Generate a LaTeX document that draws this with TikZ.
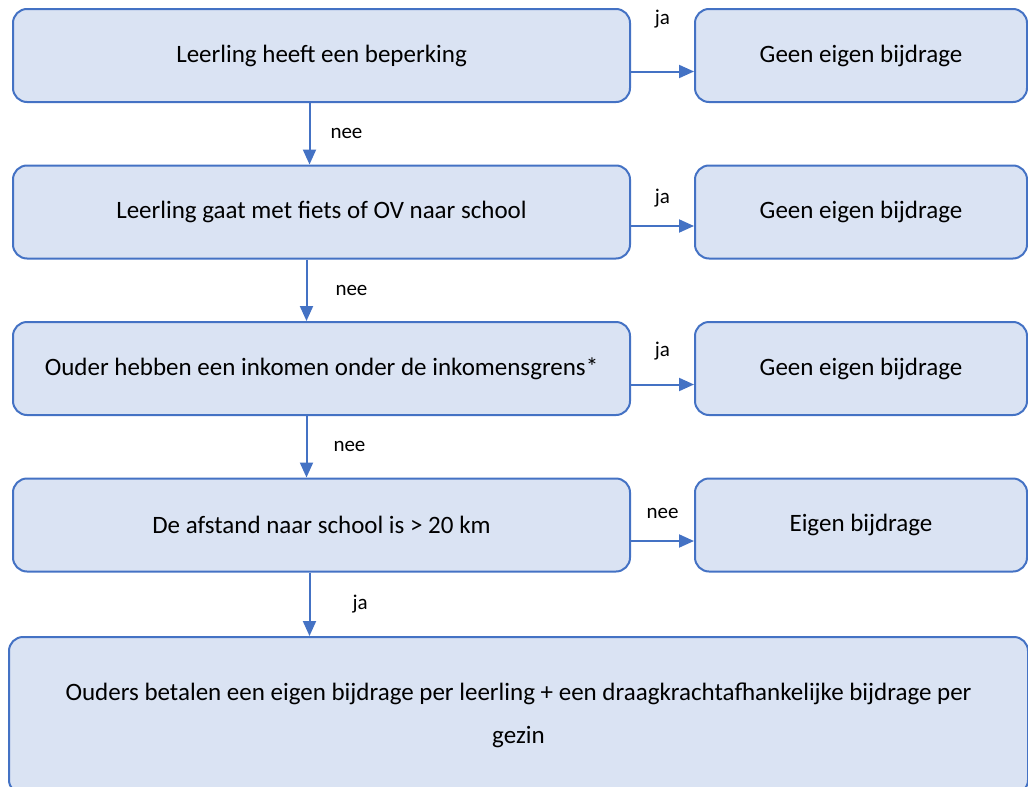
\documentclass[tikz,border=0pt]{standalone}
\usepackage{fontspec}
\setmainfont{Carlito}
\usetikzlibrary{positioning,arrows.meta}

\definecolor{boxfill}{HTML}{DAE3F3}
\definecolor{boxline}{HTML}{4472C4}

\tikzset{
  vraag/.style={draw=boxline, fill=boxfill, line width=2pt, rounded corners=14pt,
    minimum width=617pt, minimum height=93pt, inner sep=0pt,
    font=\fontsize{25}{30}\selectfont},
  uitkomst/.style={vraag, minimum width=332pt},
  pijl/.style={draw=boxline, line width=2pt, -{Triangle[length=15pt,width=13pt]}},
  keuze/.style={font=\fontsize{21}{24}\selectfont, inner sep=0pt},
}

\begin{document}
\begin{tikzpicture}[x=1pt, y=-1pt, node distance=61.5pt and 63pt]
        \useasboundingbox (0,0) rectangle (1028,787);
        \clip (0,0) rectangle (1028,787);

        % Define nodes
        \node[vraag, anchor=north west] (q1) at (12,8) {Leerling heeft een beperking};
        \node[uitkomst, right=of q1]    (a1) {Geen eigen bijdrage};
        \node[vraag, below=of q1]       (q2) {Leerling gaat met fiets of OV naar school};
        \node[uitkomst, right=of q2]    (a2) {Geen eigen bijdrage};
        \node[vraag, below=of q2]       (q3) {Ouder hebben een inkomen onder de inkomensgrens*};
        \node[uitkomst, right=of q3]    (a3) {Geen eigen bijdrage};
        \node[vraag, below=of q3]       (q4) {De afstand naar school is > 20 km};
        \node[uitkomst, right=of q4]    (a4) {Eigen bijdrage};
        \node[vraag, anchor=north west, minimum width=1019pt, minimum height=157pt,
              align=center, font=\fontsize{25}{43}\selectfont]
              (q5) at ([yshift=-63.5pt]q4.south west -| 8,0)
              {Ouders betalen een eigen bijdrage per leerling + een draagkrachtafhankelijke bijdrage per\\gezin};

        % Connect the nodes
        \draw[pijl] ([yshift=-16pt]q1.east) -- ([yshift=-16pt]q1.east -| a1.west)
            node[keuze, midway, above=42pt] (l1) {ja};
        \draw[pijl] ([yshift=-14pt]q2.east) -- ([yshift=-14pt]q2.east -| a2.west)
            node[keuze, midway, above=18pt] (l2) {ja};
        \draw[pijl] ([yshift=-16pt]q3.east) -- ([yshift=-16pt]q3.east -| a3.west)
            node[keuze, midway, above=23pt] (l3) {ja};
        \draw[pijl] ([yshift=-16pt]q4.east) -- ([yshift=-16pt]q4.east -| a4.west)
            node[keuze, midway, above=21pt] (l4) {nee};

        \draw[pijl] ([xshift=-12pt]q1.south) -- ([xshift=-12pt]q2.north)
            node[keuze, midway, right=20pt] (n1) {nee};
        \draw[pijl] ([xshift=-15pt]q2.south) -- ([xshift=-15pt]q3.north)
            node[keuze, midway, right=28pt] (n2) {nee};
        \draw[pijl] ([xshift=-15pt]q3.south) -- ([xshift=-15pt]q4.north)
            node[keuze, midway, right=26pt] (n3) {nee};
        \draw[pijl] ([xshift=-12pt]q4.south) -- ([xshift=-12pt]q4.south |- q5.north)
            node[keuze, midway, right=42pt] (n4) {ja};

    \end{tikzpicture}
\end{document}
